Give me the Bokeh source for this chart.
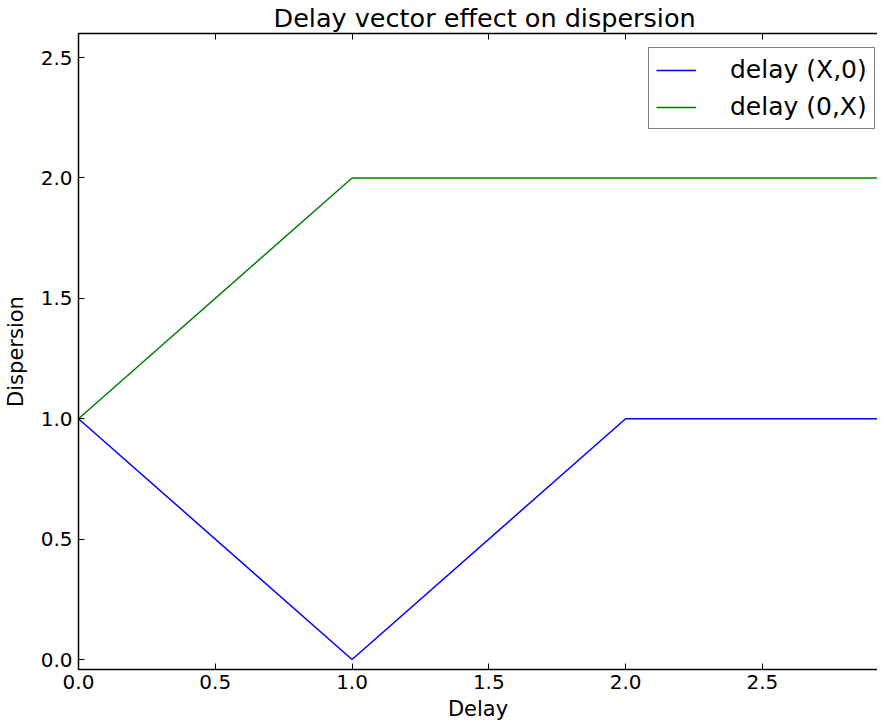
from bokeh.plotting import figure
from bokeh.models import Range1d, LinearAxis, FixedTicker, Legend, LegendItem, NumeralTickFormatter
from bokeh.embed import file_html
from bokeh.resources import INLINE

# data
delay = [0, 1, 2, 3]
disp_x0 = [1.0, 0.0, 1.0, 1.0]
disp_0x = [1.0, 2.0, 2.0, 2.0]
x_ticks = [0.0, 0.5, 1.0, 1.5, 2.0, 2.5]
y_ticks = [0.0, 0.5, 1.0, 1.5, 2.0, 2.5]

FONT = "DejaVu Sans"

p = figure(frame_width=799, frame_height=636, output_backend="svg", toolbar_location=None,
           x_range=Range1d(0, 2.921), y_range=Range1d(-0.0415, 2.6),
           x_axis_location=None, y_axis_location=None,
           min_border_left=70, min_border_right=0, min_border_top=28, min_border_bottom=45)
p.outline_line_color = None
p.xgrid.visible = False
p.ygrid.visible = False
p.background_fill_color = "white"

p.title.text = "Delay vector effect on dispersion"
p.title.text_font = FONT
p.title.text_font_size = "25.5px"
p.title.text_font_style = "normal"
p.title.text_color = "black"
p.title.align = "left"
p.title.offset = 195
p.title.standoff = 1

def style_axis(ax, ticks, labels=True):
    ax.ticker = FixedTicker(ticks=ticks)
    ax.axis_line_width = 1.5
    ax.axis_line_color = "black"
    ax.major_tick_in = 6
    ax.major_tick_out = 0
    ax.major_tick_line_width = 1
    ax.major_tick_line_color = "black"
    ax.minor_tick_line_color = None
    ax.major_label_text_font = FONT
    ax.major_label_text_font_size = "20px" if labels else "0px"
    ax.major_label_text_color = "black"
    ax.formatter = NumeralTickFormatter(format="0.0")
    ax.axis_label_text_font = FONT
    ax.axis_label_text_font_size = "21px"
    ax.axis_label_text_font_style = "normal"
    ax.axis_label_text_color = "black"

xb = LinearAxis(axis_label="Delay")
style_axis(xb, x_ticks)
xb.major_label_standoff = 5
xb.axis_label_standoff = 5
p.add_layout(xb, "below")

yl = LinearAxis(axis_label="Dispersion")
style_axis(yl, y_ticks)
yl.major_label_standoff = 6
yl.axis_label_standoff = 10
p.add_layout(yl, "left")

xt = LinearAxis()
style_axis(xt, x_ticks, labels=False)
xt.major_label_overrides = {t: "" for t in x_ticks}
xt.major_label_standoff = 0
p.add_layout(xt, "above")

r1 = p.line(delay, disp_x0, line_color="#0000ff", line_width=1.5)
r2 = p.line(delay, disp_0x, line_color="#008000", line_width=1.5)

legend = Legend(items=[LegendItem(label="delay (X,0)", renderers=[r1]),
                       LegendItem(label="delay (0,X)", renderers=[r2])],
                location=(570, 540))
legend.label_text_font = FONT
legend.label_text_font_size = "25px"
legend.label_text_color = "black"
legend.glyph_width = 40
legend.glyph_height = 24
legend.label_height = 24
legend.label_standoff = 34
legend.spacing = 8
legend.padding = 7
legend.margin = 0
legend.border_line_color = "black"
legend.border_line_width = 1.5
legend.background_fill_alpha = 1.0
p.add_layout(legend, "center")

open("out.html", "w").write(file_html(p, INLINE))
